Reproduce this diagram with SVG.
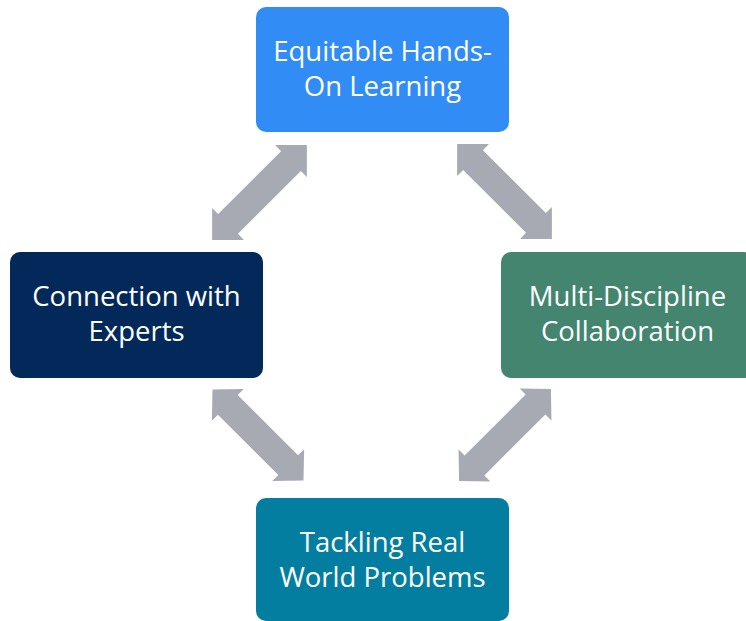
<svg xmlns="http://www.w3.org/2000/svg" width="746" height="621" viewBox="0 0 746 621">
<defs>
<style>
.box{stroke:none}
.lbl{font-family:"Open Sans","Liberation Sans",sans-serif;font-size:27.5px;fill:#ffffff;text-anchor:middle}
.arr{fill:#A8AAB3}
</style>
<polygon id="dbl" points="-67,0 -44.5,-22.5 -44.5,-14 44.5,-14 44.5,-22.5 67,0 44.5,22.5 44.5,14 -44.5,14 -44.5,22.5"/>
</defs>
<rect width="746" height="621" fill="#ffffff"/>
<g id="connectors" class="arr">
<use href="#dbl" transform="translate(259.5,192.5) rotate(-45)"/>
<use href="#dbl" transform="translate(504.5,191.5) rotate(45)"/>
<use href="#dbl" transform="translate(258,435) rotate(45) scale(0.96,1)"/>
<use href="#dbl" transform="translate(505,435) rotate(-45) scale(0.97,1)"/>
</g>
<g id="node-top">
<rect class="box" x="256" y="7" width="253" height="125" rx="10" fill="#318CF6"/>
<text class="lbl" x="382.5" y="61">Equitable Hands-</text>
<text class="lbl" x="382.5" y="96">On Learning</text>
</g>
<g id="node-left">
<rect class="box" x="10" y="252" width="253" height="126" rx="10" fill="#02295A"/>
<text class="lbl" x="136.5" y="306">Connection with</text>
<text class="lbl" x="136.5" y="341">Experts</text>
</g>
<g id="node-right">
<rect class="box" x="501" y="252" width="253" height="126" rx="10" fill="#43856F"/>
<text class="lbl" x="627.5" y="306">Multi-Discipline</text>
<text class="lbl" x="627.5" y="341">Collaboration</text>
</g>
<g id="node-bottom">
<rect class="box" x="256" y="498" width="253" height="123" rx="10" fill="#047EA0"/>
<text class="lbl" x="382.5" y="552">Tackling Real</text>
<text class="lbl" x="382.5" y="587">World Problems</text>
</g>
</svg>
